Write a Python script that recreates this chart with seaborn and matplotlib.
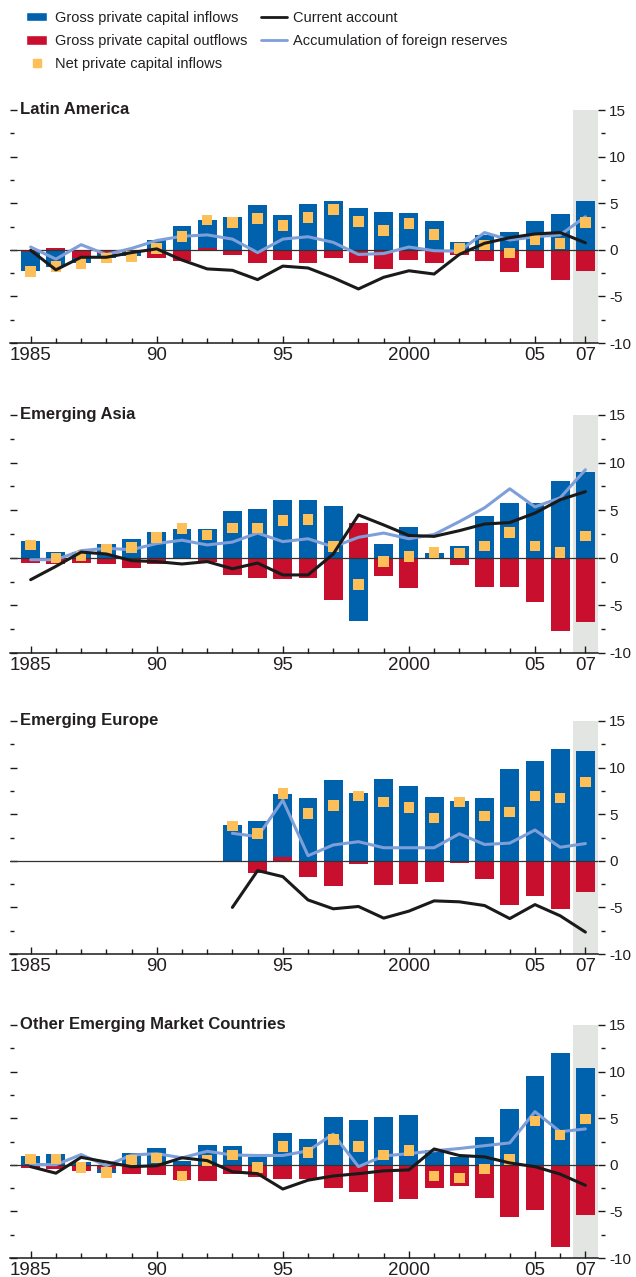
import numpy as np
import pandas as pd
import seaborn as sns
import matplotlib.pyplot as plt
from matplotlib.patches import Patch
from matplotlib.lines import Line2D
from matplotlib.ticker import MultipleLocator

# years
years = list(range(1985, 2008))
years_eu = list(range(1993, 2008))

# Latin America
latam_in = [-2.3, -1.8, -1.4, -0.9, -0.7, 1.05, 2.6, 3.2, 3.5, 4.8, 3.75, 4.9, 5.25, 4.5, 4.1, 4.0, 3.1, 0.8, 1.6, 1.95, 3.1, 3.85, 5.25]
latam_out = [-0.2, 0.15, -0.85, -0.4, -0.2, -0.9, -1.2, 0.2, -0.6, -1.45, -1.1, -1.45, -0.9, -1.45, -2.05, -1.1, -1.45, -0.6, -1.2, -2.4, -1.95, -3.2, -2.3]
latam_net = [-2.3, -1.8, -1.45, -0.9, -0.7, 0.15, 1.45, 3.2, 2.95, 3.35, 2.6, 3.45, 4.3, 3.05, 2.05, 2.8, 1.65, 0.15, 0.5, -0.35, 1.1, 0.7, 2.95]
latam_ca = [-0.05, -2.15, -0.8, -0.8, -0.3, 0.1, -1.1, -2.05, -2.2, -3.2, -1.75, -1.95, -3.0, -4.2, -2.95, -2.25, -2.6, -0.5, 0.7, 1.3, 1.7, 1.85, 0.75]
latam_res = [0.3, -1.0, 0.55, -0.5, 0.15, 1.0, 1.45, 1.6, 1.15, -0.3, 1.15, 1.4, 0.8, -0.5, -0.4, 0.3, -0.1, -0.15, 1.85, 1.05, 1.4, 1.6, 3.55]

# Emerging Asia
asia_in = [1.8, 0.6, 0.6, 1.5, 2.0, 2.75, 3.05, 3.05, 4.95, 5.15, 6.1, 6.1, 5.45, -6.6, 1.5, 3.25, 0.55, 1.25, 4.4, 5.8, 5.8, 8.1, 9.05]
asia_out = [-0.5, -0.7, -0.5, -0.7, -1.05, -0.7, -0.05, -0.4, -1.85, -2.1, -2.2, -2.1, -4.4, 3.7, -1.95, -3.2, 0.0, -0.8, -3.1, -3.1, -4.6, -7.65, -6.7]
asia_net = [1.35, 0.0, 0.2, 0.9, 1.1, 2.15, 3.05, 2.4, 3.15, 3.15, 3.9, 4.0, 1.2, -2.8, -0.4, 0.15, 0.55, 0.5, 1.25, 2.65, 1.25, 0.55, 2.3]
asia_ca = [-2.3, -0.9, 0.6, 0.4, -0.3, -0.4, -0.65, -0.4, -1.15, -0.55, -1.8, -1.8, 0.4, 4.5, 3.45, 2.35, 2.25, 2.85, 3.55, 3.7, 4.7, 6.1, 6.95]
asia_res = [-0.2, -0.2, 0.75, 1.0, 0.85, 1.5, 1.85, 1.35, 1.65, 2.6, 1.7, 2.0, 1.15, 2.15, 2.6, 2.0, 2.45, 3.8, 5.25, 7.25, 5.35, 6.3, 9.25]

# Emerging Europe (from 1993)
eu_in = [3.8, 4.3, 7.2, 6.75, 8.7, 7.3, 8.8, 8.05, 6.85, 6.4, 6.75, 9.85, 10.7, 12.0, 11.8]
eu_out = [0.0, -1.35, 0.45, -1.7, -2.75, -0.3, -2.55, -2.45, -2.3, -0.2, -2.0, -4.7, -3.8, -5.2, -3.4]
eu_net = [3.75, 2.9, 7.2, 5.05, 5.95, 6.95, 6.3, 5.7, 4.6, 6.3, 4.8, 5.25, 6.95, 6.75, 8.45]
eu_ca = [-5.0, -1.05, -1.7, -4.2, -5.15, -4.9, -6.15, -5.4, -4.3, -4.4, -4.8, -6.2, -4.7, -5.9, -7.65]
eu_res = [2.95, 2.6, 6.5, 0.55, 1.7, 2.05, 1.4, 1.4, 1.4, 2.9, 1.75, 1.9, 3.3, 1.45, 1.85]

# Other emerging market countries
oth_in = [0.95, 1.15, 0.3, -0.85, 1.25, 1.8, 0.4, 2.1, 2.0, 0.85, 3.4, 2.75, 5.1, 4.8, 5.1, 5.3, 1.55, 0.85, 2.95, 5.95, 9.5, 11.95, 10.35]
oth_out = [-0.3, -0.5, -0.65, -0.45, -0.95, -1.05, -1.65, -1.7, -0.95, -1.3, -1.5, -1.5, -2.45, -2.9, -3.95, -3.65, -2.45, -2.25, -3.55, -5.55, -4.8, -8.8, -5.35]
oth_net = [0.6, 0.6, -0.3, -0.85, 0.45, 0.75, -1.2, 0.45, 1.05, -0.3, 1.95, 1.3, 2.7, 1.95, 1.05, 1.55, -1.2, -1.4, -0.45, 0.55, 4.7, 3.2, 4.9]
oth_ca = [-0.2, -0.9, 0.8, 0.3, -0.2, -0.1, 0.75, 0.45, -0.75, -0.95, -2.6, -1.65, -1.2, -0.95, -0.65, -0.55, 1.7, 1.0, 0.85, 0.2, -0.2, -1.0, -2.2]
oth_res = [0.05, 0.0, 1.1, -0.1, 1.05, 1.2, 0.75, 1.45, 1.05, 1.0, 1.0, 1.5, 3.3, -0.2, 0.95, 1.2, 1.5, 1.75, 2.05, 2.35, 5.7, 3.55, 3.85]

xtick_pos = [1985, 1990, 1995, 2000, 2005, 2007]
xtick_labels = ['1985', '90', '95', '2000', '05', '07']
ytick_pos = [-10, -5, 0, 5, 10, 15]
ytick_labels = ['-10', '-5', '0', '5', '10', '15']

BLUE = '#0061ad'
RED = '#c8102e'
ORANGE = '#fdbf57'
BLACK = '#1a1a1a'
LIGHT = '#7f9fd9'
SHADE = '#e3e5e3'
TEXT = '#231f20'

sns.set_theme(style='white')
plt.rcParams['font.family'] = ['Liberation Sans', 'DejaVu Sans']

panels = [
    ('Latin America', years, latam_in, latam_out, latam_net, latam_ca, latam_res),
    ('Emerging Asia', years, asia_in, asia_out, asia_net, asia_ca, asia_res),
    ('Emerging Europe', years_eu, eu_in, eu_out, eu_net, eu_ca, eu_res),
    ('Other Emerging Market Countries', years, oth_in, oth_out, oth_net, oth_ca, oth_res),
]
# top / bottom of each plot area, in pixels
boxes = [(110, 343), (415, 653), (721, 954), (1025, 1258)]

W, H = 636, 1277
fig = plt.figure(figsize=(W / 100, H / 100), dpi=100)

for (name, yrs, gin, gout, net, ca, res), (top, bot) in zip(panels, boxes):
    ax = fig.add_axes([10 / W, 1 - bot / H, 588 / W, (bot - top) / H])
    df = pd.DataFrame({'year': yrs, 'inflows': gin, 'outflows': gout,
                       'net': net, 'ca': ca, 'reserves': res})

    ax.axvspan(2006.5, 2007.5, color=SHADE, lw=0, zorder=0)
    sns.barplot(data=df, x='year', y='inflows', native_scale=True, orient='x',
                width=0.75, color=BLUE, saturation=1, errorbar=None,
                linewidth=0, ax=ax, zorder=2)
    sns.barplot(data=df, x='year', y='outflows', native_scale=True, orient='x',
                width=0.75, color=RED, saturation=1, errorbar=None,
                linewidth=0, ax=ax, zorder=2.1)
    ax.axhline(0, color='#333333', lw=0.9, zorder=2.5)
    sns.lineplot(data=df, x='year', y='reserves', color=LIGHT, lw=2.2, ax=ax, zorder=3)
    sns.scatterplot(data=df, x='year', y='net', marker='s', s=58, color=ORANGE,
                    edgecolor='none', ax=ax, zorder=4)
    sns.lineplot(data=df, x='year', y='ca', color=BLACK, lw=2.2, ax=ax, zorder=5)

    ax.set_xlim(1984.18, 2007.5)
    ax.set_ylim(-10, 15)
    ax.set_xlabel('')
    ax.set_ylabel('')

    ax.set_xticks(xtick_pos)
    ax.set_xticklabels(xtick_labels, fontsize=13.5)
    ax.set_xticks(years, minor=True)
    ax.set_yticks(ytick_pos)
    ax.set_yticklabels(ytick_labels, fontsize=13.5)
    ax.yaxis.set_minor_locator(MultipleLocator(2.5))

    ax.tick_params(axis='x', which='both', direction='in', bottom=True, colors=BLACK,
                   labelcolor=TEXT, pad=3)
    ax.tick_params(axis='x', which='major', length=5, width=1)
    ax.tick_params(axis='x', which='minor', length=3.5, width=1)
    ax.tick_params(axis='y', which='both', direction='in', left=True, right=True,
                   labelleft=False, labelright=True, colors=BLACK,
                   labelcolor=TEXT, pad=3)
    ax.tick_params(axis='y', which='major', length=5, width=1)
    ax.tick_params(axis='y', which='minor', length=3, width=1)

    for side in ['top', 'left']:
        ax.spines[side].set_visible(False)
    ax.spines['right'].set_position(('outward', 5))
    ax.spines['right'].set_color('none')
    ax.spines['bottom'].set_color(BLACK)
    ax.spines['bottom'].set_linewidth(1.1)

    ax.text(10 / 588, 1.0, name, transform=ax.transAxes, ha='left', va='center',
            fontsize=12, fontweight='bold', color=TEXT)

left_handles = [
    Patch(facecolor=BLUE, label='Gross private capital inflows'),
    Patch(facecolor=RED, label='Gross private capital outflows'),
    Line2D([], [], marker='s', ls='none', color=ORANGE, markersize=6,
           label='Net private capital inflows'),
]
right_handles = [
    Line2D([], [], color=BLACK, lw=2, label='Current account'),
    Line2D([], [], color=LIGHT, lw=2, label='Accumulation of foreign reserves'),
]
leg_kw = dict(loc='upper left', frameon=False, fontsize=10.5, handleheight=0.6,
              labelspacing=0.62, borderaxespad=0, borderpad=0, labelcolor=TEXT)
fig.legend(handles=left_handles, bbox_to_anchor=(26 / W, 1 - 11 / H),
           handlelength=1.45, handletextpad=0.55, **leg_kw)
fig.legend(handles=right_handles, bbox_to_anchor=(261 / W, 1 - 11 / H),
           handlelength=1.8, handletextpad=0.4, **leg_kw)

fig.savefig('out.png', dpi=100)
